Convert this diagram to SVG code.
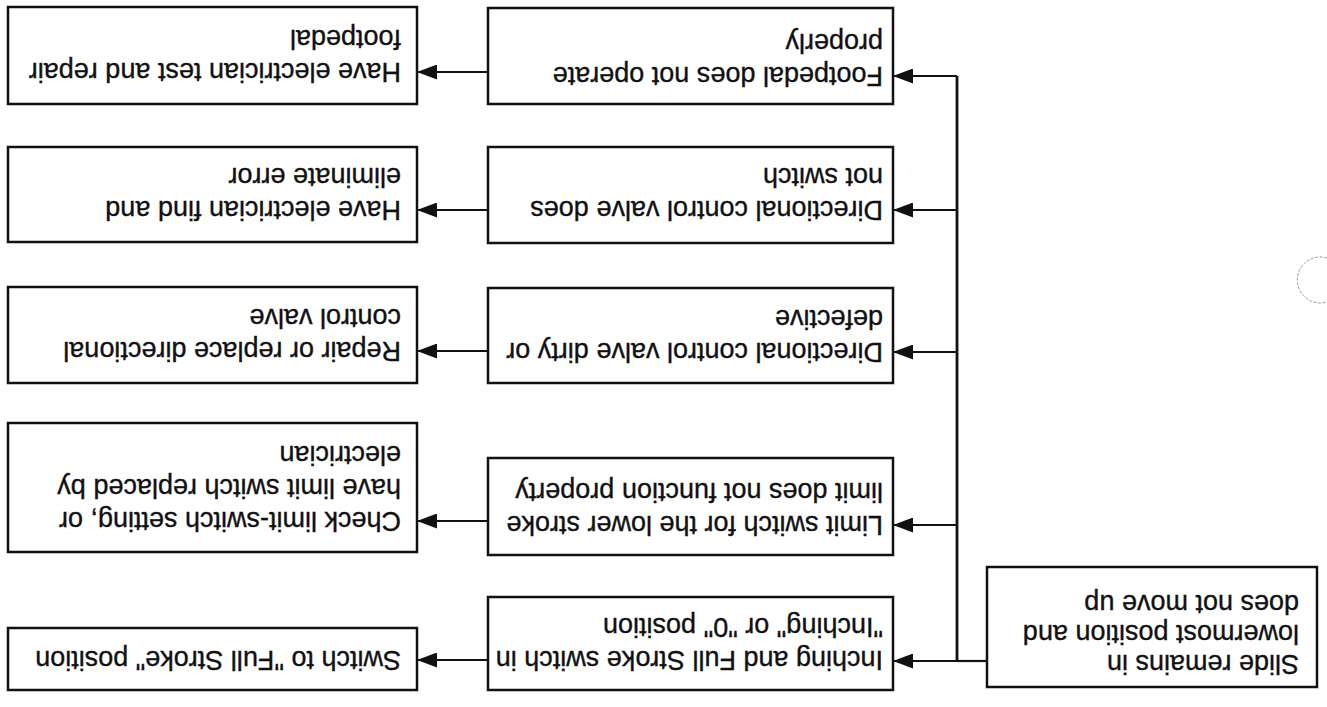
<svg xmlns="http://www.w3.org/2000/svg" width="1327" height="707" viewBox="0 0 1327 707">
  <style>
    .box { fill: #ffffff; stroke: #111111; stroke-width: 2.5; }
    .lbl { font-family: "Liberation Sans", Arial, Helvetica, sans-serif; font-size: 27px; fill: #111111; stroke: #111111; stroke-width: 0.35; }
    .wire { fill: none; stroke: #111111; stroke-width: 2.2; }
    .bus { fill: none; stroke: #111111; stroke-width: 2.8; }
  </style>
  <defs>
    <marker id="head" markerWidth="20" markerHeight="15" refX="20" refY="7.5" orient="auto" markerUnits="userSpaceOnUse">
      <path d="M0,0 L20,7.5 L0,15 z" fill="#111111"/>
    </marker>
  </defs>
  <rect width="1327" height="707" fill="#ffffff"/>

  <!-- whole chart is printed turned upside down -->
  <g transform="rotate(180 663.5 353.5)">
    <g id="connectors">
      <path class="wire" d="M340,46 H370"/>
      <path class="bus" d="M370,46 V631"/>
      <path class="wire" marker-end="url(#head)" d="M370,631 H434"/>
      <path class="wire" marker-end="url(#head)" d="M370,497 H434"/>
      <path class="wire" marker-end="url(#head)" d="M370,355 H434"/>
      <path class="wire" marker-end="url(#head)" d="M370,182 H434"/>
      <path class="wire" marker-end="url(#head)" d="M370,46 H434"/>
      <path class="wire" marker-end="url(#head)" d="M839,635 H910"/>
      <path class="wire" marker-end="url(#head)" d="M839,497 H910"/>
      <path class="wire" marker-end="url(#head)" d="M839,356 H910"/>
      <path class="wire" marker-end="url(#head)" d="M839,186 H910"/>
      <path class="wire" marker-end="url(#head)" d="M839,47 H910"/>
    </g>

    <g id="symptom">
      <rect class="box" x="10" y="20" width="330" height="120"/>
      <text class="lbl" x="28" y="52">Slide remains in</text>
      <text class="lbl" x="28" y="82">lowermost position and</text>
      <text class="lbl" x="28" y="112">does not move up</text>
    </g>

    <g id="cause-footpedal">
      <rect class="box" x="434" y="603" width="405" height="96"/>
      <text class="lbl" x="444" y="640.5">Footpedal does not operate</text>
      <text class="lbl" x="444" y="673.5">properly</text>
    </g>
    <g id="cause-valve-switch">
      <rect class="box" x="434" y="464" width="405" height="96"/>
      <text class="lbl" x="444" y="506.5">Directional control valve does</text>
      <text class="lbl" x="444" y="539.5">not switch</text>
    </g>
    <g id="cause-valve-dirty">
      <rect class="box" x="434" y="324" width="405" height="95"/>
      <text class="lbl" x="444" y="364.5">Directional control valve dirty or</text>
      <text class="lbl" x="444" y="397.5">defective</text>
    </g>
    <g id="cause-limit-switch">
      <rect class="box" x="434" y="152" width="405" height="97"/>
      <text class="lbl" x="444" y="191.5">Limit switch for the lower stroke</text>
      <text class="lbl" x="444" y="224.5">limit does not function property</text>
    </g>
    <g id="cause-inching">
      <rect class="box" x="434" y="17" width="405" height="93"/>
      <text class="lbl" x="444" y="56.5">Inching and Full Stroke switch in</text>
      <text class="lbl" x="444" y="89.5">"Inching" or "0" position</text>
    </g>

    <g id="remedy-footpedal">
      <rect class="box" x="910" y="603" width="409" height="97"/>
      <text class="lbl" x="926" y="644.5">Have electrician test and repair</text>
      <text class="lbl" x="926" y="677.5">footpedal</text>
    </g>
    <g id="remedy-valve-switch">
      <rect class="box" x="910" y="465" width="409" height="95"/>
      <text class="lbl" x="926" y="506.5">Have electrician find and</text>
      <text class="lbl" x="926" y="539.5">eliminate error</text>
    </g>
    <g id="remedy-valve-dirty">
      <rect class="box" x="910" y="324" width="409" height="96"/>
      <text class="lbl" x="926" y="365.5">Repair or replace directional</text>
      <text class="lbl" x="926" y="398.5">control valve</text>
    </g>
    <g id="remedy-limit-switch">
      <rect class="box" x="910" y="155" width="409" height="129"/>
      <text class="lbl" x="926" y="195.5">Check limit-switch setting, or</text>
      <text class="lbl" x="926" y="228.5">have limit switch replaced by</text>
      <text class="lbl" x="926" y="261.5">electrician</text>
    </g>
    <g id="remedy-inching">
      <rect class="box" x="910" y="17" width="409" height="62"/>
      <text class="lbl" x="926" y="56.5">Switch to "Full Stroke" position</text>
    </g>
  </g>

  <!-- faint punch-hole ring at the sheet edge -->
  <path d="M1327,258 A23,23 0 1 0 1327,302" fill="none" stroke="#9a9a9a" stroke-width="1" stroke-dasharray="3 1.5"/>
</svg>
